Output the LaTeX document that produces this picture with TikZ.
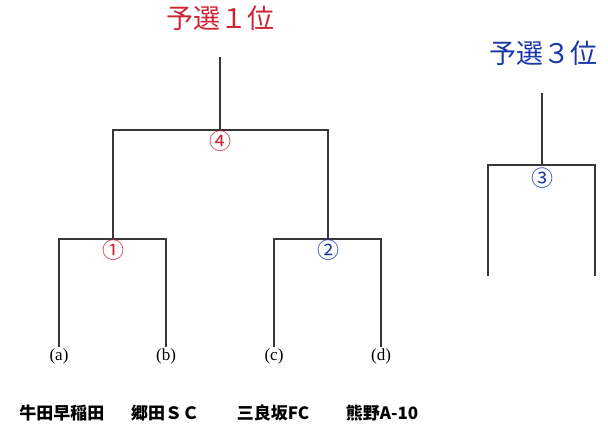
\documentclass[tikz,border=0pt]{standalone}
\usepackage{fontspec}
\setmainfont{Liberation Serif}
\newfontfamily\cjk{Noto Sans CJK JP}
\definecolor{tred}{RGB}{205,35,55}
\definecolor{tblue}{RGB}{25,55,165}
\definecolor{linec}{RGB}{55,55,55}
\begin{document}
\begin{tikzpicture}[x=1pt,y=-1pt,
  bline/.style={draw=linec,line width=1.4pt},
  title/.style={font=\cjk\fontsize{27}{30}\selectfont,inner sep=0pt},
  circnum/.style={font=\cjk\fontsize{22}{24}\selectfont,inner sep=0pt},
  slot/.style={font=\fontsize{17}{18}\selectfont,inner sep=1pt,anchor=north},
  team/.style={font=\cjk\bfseries\fontsize{17}{20}\selectfont,inner sep=0pt}]
\useasboundingbox (0,0) rectangle (608,434);
\fill[white] (0,0) rectangle (608,434);
% titles
\node[title,text=tred] (t1) at (220,18) {予選１位};
\node[title,text=tblue] (t3) at (543,53) {予選３位};
% main bracket coordinates
\coordinate (top1) at (220,57);
\coordinate (j4) at (220,130);
\coordinate (L4) at (113,130);
\coordinate (R4) at (328,130);
\coordinate (j1) at (113,239);
\coordinate (j2) at (328,239);
\coordinate (a1) at (59,239);
\coordinate (b1) at (166,239);
\coordinate (c1) at (274,239);
\coordinate (d1) at (381,239);
% slot labels
\node[slot] (la) at (59,347) {(a)};
\node[slot] (lb) at (166,347) {(b)};
\node[slot] (lc) at (274,347) {(c)};
\node[slot] (ld) at (381,347) {(d)};
% lines
\draw[bline] (top1) -- (j4);
\draw[bline] (j1) -- (L4) -- (R4) -- (j2);
\draw[bline] (la.north) -- (a1) -- (b1) -- (lb.north);
\draw[bline] (lc.north) -- (c1) -- (d1) -- (ld.north);
% match numbers
\node[circnum,text=tred] (m4) at (220,141) {④};
\node[circnum,text=tred] (m1) at (113,250) {①};
\node[circnum,text=tblue] (m2) at (328,250) {②};
% third place bracket
\coordinate (top3) at (542,93);
\coordinate (j3) at (542,165);
\coordinate (e1) at (488,165);
\coordinate (f1) at (595,165);
\coordinate (e) at (488,276);
\coordinate (f) at (595,276);
\draw[bline] (top3) -- (j3);
\draw[bline] (e) -- (e1) -- (f1) -- (f);
\node[circnum,text=tblue] (m3) at (542,178) {③};
% team names
\node[team] (ta) at (62,413) {牛田早稲田};
\node[team] (tb) at (165,413) {郷田ＳＣ};
\node[team] (tc) at (273,413) {三良坂FC};
\node[team] (td) at (382,413) {熊野A-10};
\end{tikzpicture}
\end{document}
